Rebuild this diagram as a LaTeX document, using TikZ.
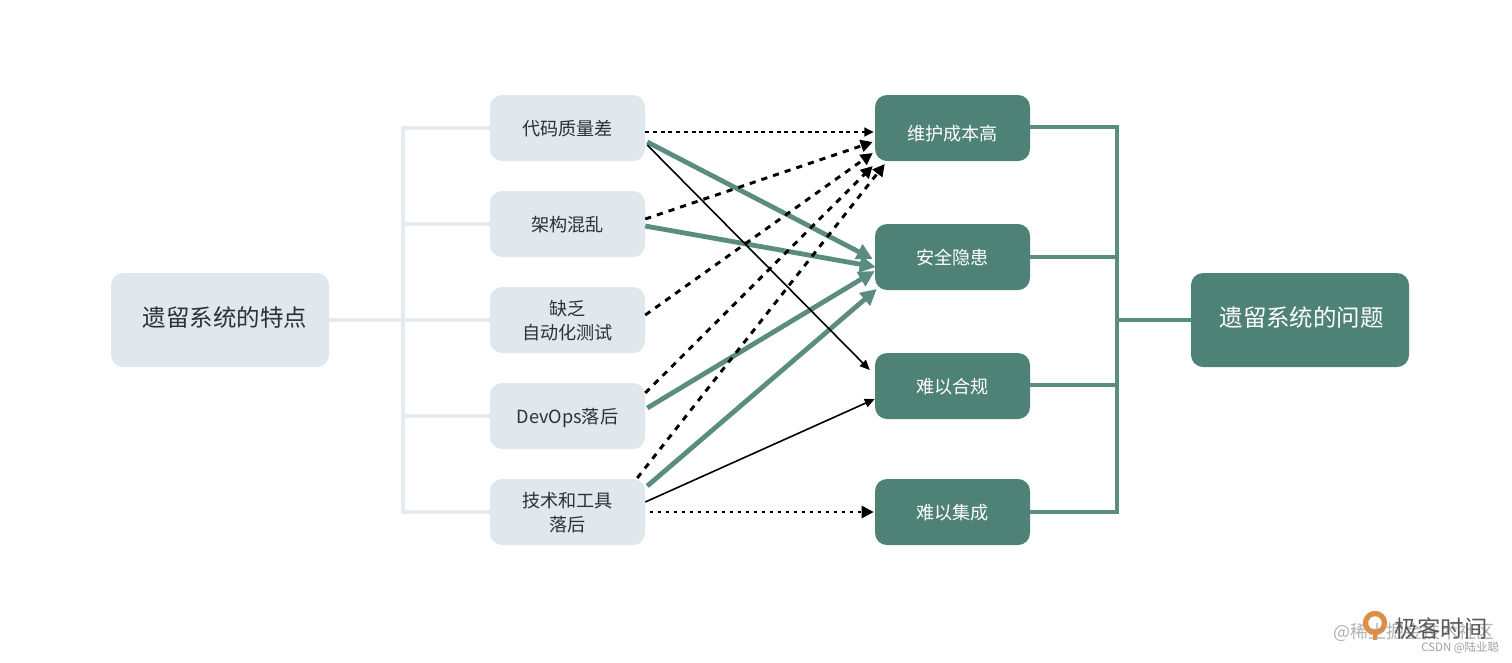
\documentclass[tikz,border=0pt]{standalone}
\usepackage{fontspec}
\setmainfont{Noto Sans CJK SC}
\usetikzlibrary{arrows.meta,calc}
\definecolor{lightbox}{HTML}{E0E7ED}
\definecolor{lightline}{HTML}{E4EBF0}
\definecolor{darkbox}{HTML}{4F8276}
\definecolor{darkline}{HTML}{5A8C7F}
\definecolor{inktext}{HTML}{2B3236}
\definecolor{logoorange}{HTML}{DB8F45}
\newcommand{\shifttext}[2]{\raisebox{-#1}[\height][\depth]{#2}}
\newcommand{\twolines}[2]{\begin{tabular}{@{}c@{}}#1\\#2\end{tabular}}
\tikzset{
  x=0.75pt,y=-0.75pt,
  boxbase/.style={rounded corners=9pt,inner sep=0pt,align=center,font=\fontsize{13.6pt}{18pt}\selectfont},
  lsmall/.style={boxbase,fill=lightbox,text=inktext,minimum width=116.25pt,minimum height=49.5pt},
  dsmall/.style={boxbase,fill=darkbox,text=white,minimum width=116.25pt,minimum height=49.5pt},
  lbig/.style={boxbase,fill=lightbox,text=inktext,minimum width=163.5pt,minimum height=70.5pt,font=\fontsize{17.6pt}{22pt}\selectfont},
  dbig/.style={boxbase,fill=darkbox,text=white,minimum width=163.5pt,minimum height=70.5pt,font=\fontsize{17.6pt}{22pt}\selectfont},
  lightwire/.style={draw=lightline,line width=3pt},
  darkwire/.style={draw=darkline,line width=3pt},
  greenarrow/.style={draw=darkline,line width=3.6pt,-{Triangle[length=12pt,width=12pt]}},
  blackarrow/.style={draw=black,line width=1.2pt,-{Triangle[length=7.5pt,width=6.5pt]}},
  dasharrow/.style={draw=black,line width=2.2pt,dash pattern=on 4.6pt off 4.6pt,-{Triangle[length=9pt,width=9pt]}},
  shortdash/.style={draw=black,line width=1.7pt,dash pattern=on 3pt off 2.8pt,-{Triangle[length=7pt,width=6.5pt]}},
  dotarrow/.style={draw=black,line width=2pt,dash pattern=on 1.7pt off 4.3pt,-{Triangle[length=9pt,width=9pt]}},
  wmark/.style={inner sep=0pt,anchor=west},
}
\begin{document}
\begin{tikzpicture}
\useasboundingbox[fill=white] (0,0) rectangle (1512,662);

\coordinate (ljoin) at (403,320);
\coordinate (ltop) at (403,128);
\coordinate (lbot) at (403,512);
\coordinate (rjoin) at (1117,320);
\coordinate (rtop) at (1117,127);
\coordinate (rbot) at (1117,512);
\coordinate (lm2) at (403,224);
\coordinate (lm4) at (403,416);
\coordinate (rm2) at (1117,257);
\coordinate (rm3) at (1117,385);

\node[lbig] (oldtraits) at (220,320) {\hspace*{7.5pt}\shifttext{-1.5pt}{遗留系统的特点}};
\node[lsmall] (a1) at (567.5,128) {\shifttext{0.8pt}{代码质量差}};
\node[lsmall] (a2) at (567.5,224) {\shifttext{0.8pt}{架构混乱}};
\node[lsmall] (a3) at (567.5,320) {\shifttext{2.2pt}{\twolines{缺乏}{自动化测试}}};
\node[lsmall] (a4) at (567.5,416) {\shifttext{1.2pt}{DevOps落后}};
\node[lsmall] (a5) at (567.5,512) {\shifttext{2.2pt}{\twolines{技术和工具}{落后}}};
\node[dsmall] (b1) at (952.5,128) {\shifttext{4pt}{维护成本高}};
\node[dsmall] (b2) at (952.5,257) {\shifttext{0.5pt}{安全隐患}};
\node[dsmall] (b3) at (952.5,386) {\shifttext{0.8pt}{难以合规}};
\node[dsmall] (b4) at (952.5,512) {\shifttext{0.8pt}{难以集成}};
\node[dbig] (oldissues) at (1300,320) {\hspace*{2.5pt}\shifttext{-1.5pt}{遗留系统的问题}};

\draw[lightwire] (oldtraits.east) -- (a3.west);
\draw[lightwire] (a1.west) -- (ltop) -- (lbot) -- (a5.west);
\draw[lightwire] (a2.west) -- (lm2);
\draw[lightwire] (a4.west) -- (lm4);
\draw[darkwire] (b1.east |- rtop) -- (rtop) -- (rbot) -- (b4.east |- rbot);
\draw[darkwire] (b2.east) -- (rm2);
\draw[darkwire] (b3.east |- rm3) -- (rm3);
\draw[darkwire] (rjoin) -- (oldissues.west);

\draw[greenarrow] ($(a1.east)+(2,14)$) -- ($(b2.west)+(-2,2)$);
\draw[greenarrow] ($(a2.east)+(0,2)$) -- ($(b2.west)+(1,10)$);
\draw[greenarrow] ($(a4.east)+(2,-8)$) -- ($(b2.west)+(0,14)$);
\draw[greenarrow] ($(a5.east)+(2,-26)$) -- ($(b2.west)+(2,32)$);
\draw[blackarrow] ($(a1.east)+(2,17)$) -- ($(b3.west)+(-5,-16)$);
\draw[blackarrow] ($(a5.east)+(0,-10)$) -- ($(b3.west)+(0,13)$);
\draw[shortdash] ($(a1.east)+(0,4)$) -- ($(b1.west)+(-1,4)$);
\draw[dasharrow] ($(a2.east)+(0,-5)$) -- ($(b1.west)+(-2,14)$);
\draw[dasharrow] ($(a3.east)+(0,-5)$) -- ($(b1.west)+(-2,25)$);
\draw[dasharrow] ($(a4.east)+(0,-23)$) -- ($(b1.west)+(-2,38)$);
\draw[dasharrow] ($(a5.east)+(-8,-34)$) -- ($(b1.west)+(10,36)$);
\draw[dotarrow] ($(a5.east)+(5,0)$) -- ($(b4.west)+(-1,0)$);

\node[wmark,font=\fontsize{13.5pt}{15pt}\selectfont,text=gray!60] (wm1) at (1333,632) {@稀土掘金技术社区};
\draw[draw=logoorange,line width=4pt] (1375,623) circle (9.5);
\draw[draw=logoorange,line width=3pt] (1375,634) -- (1375,640);
\node[wmark,font=\fontsize{17.5pt}{19pt}\selectfont,text=black!65] (wm2) at (1394,629) {极客时间};
\node[wmark,font=\fontsize{8.6pt}{10pt}\selectfont,text=gray!75] (wm3) at (1421,648) {CSDN @陆业聪};
\end{tikzpicture}
\end{document}
